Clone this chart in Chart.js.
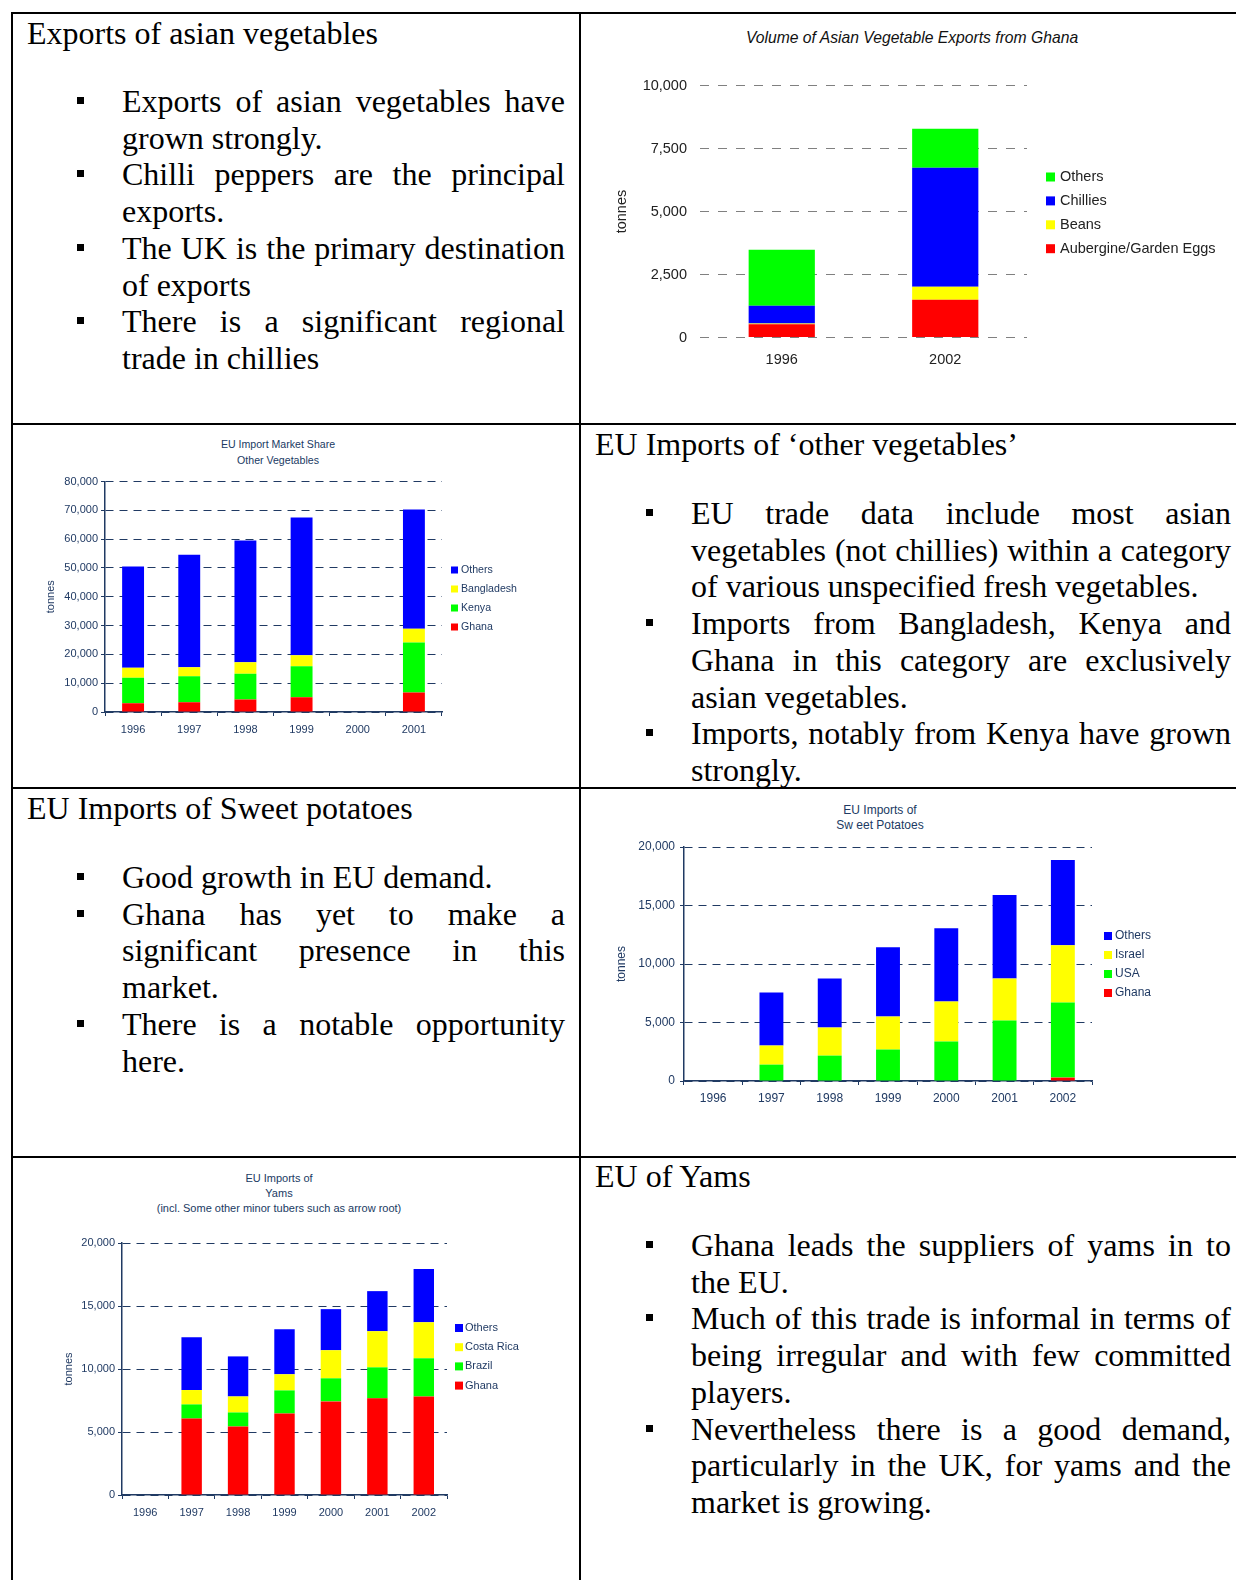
<!DOCTYPE html>
<html>
<head>
<meta charset="utf-8">
<title>Asian vegetables, sweet potatoes and yams</title>
<script src="https://cdn.jsdelivr.net/npm/chart.js@4.4.1/dist/chart.umd.min.js"></script>
<style>
  html, body { margin: 0; padding: 0; background: #fff; }
  body { position: relative; width: 1236px; height: 1580px; overflow: hidden; }
  .rule { position: absolute; background: #000; }
  .head, .list { position: absolute; font-family: "Liberation Serif", "Times New Roman", serif;
    font-size: 32px; line-height: 36.7px; color: #000; white-space: nowrap; }
  .list { list-style: none; margin: 0; padding: 0; }
  .list li { position: relative; }
  .list li::before { content: ""; position: absolute; left: -45px; top: 14px; width: 7px; height: 7px; background: #000; }
  .j { text-align: justify; text-align-last: justify; }
  canvas { position: absolute; }
  .ttl { position: absolute; transform: translate(-50%, -50%); white-space: nowrap;
    font-family: "Liberation Sans", Arial, sans-serif; color: #203a63; }
</style>
</head>
<body>

<!-- table rules -->
<div class="rule" style="left:11px; top:12px; width:1225px; height:2px;"></div>
<div class="rule" style="left:11px; top:12px; width:2px; height:1568px;"></div>
<div class="rule" style="left:579px; top:12px; width:2px; height:1568px;"></div>
<div class="rule" style="left:11px; top:423px; width:1225px; height:2px;"></div>
<div class="rule" style="left:11px; top:787px; width:1225px; height:2px;"></div>
<div class="rule" style="left:11px; top:1156px; width:1225px; height:2px;"></div>

<!-- row 1 text -->
<div class="head" style="left:27px; top:15px;">Exports of asian vegetables</div>
<ul class="list" style="left:122px; top:83px; width:443px;">
  <li><div class="j">Exports of asian vegetables have</div><div>grown strongly.</div></li>
  <li><div class="j">Chilli peppers are the principal</div><div>exports.</div></li>
  <li><div class="j">The UK is the primary destination</div><div>of exports</div></li>
  <li><div class="j">There is a significant regional</div><div>trade in chillies</div></li>
</ul>

<!-- row 2 text -->
<div class="head" style="left:595px; top:426px;">EU Imports of ‘other vegetables’</div>
<ul class="list" style="left:691px; top:495px; width:540px;">
  <li><div class="j">EU trade data include most asian</div><div class="j">vegetables (not chillies) within a category</div><div>of various unspecified fresh vegetables.</div></li>
  <li><div class="j">Imports from Bangladesh, Kenya and</div><div class="j">Ghana in this category are exclusively</div><div>asian vegetables.</div></li>
  <li><div class="j">Imports, notably from Kenya have grown</div><div>strongly.</div></li>
</ul>

<!-- row 3 text -->
<div class="head" style="left:27px; top:790px;">EU Imports of Sweet potatoes</div>
<ul class="list" style="left:122px; top:859px; width:443px;">
  <li><div>Good growth in EU demand.</div></li>
  <li><div class="j">Ghana has yet to make a</div><div class="j">significant presence in this</div><div>market.</div></li>
  <li><div class="j">There is a notable opportunity</div><div>here.</div></li>
</ul>

<!-- row 4 text -->
<div class="head" style="left:595px; top:1158px;">EU of Yams</div>
<ul class="list" style="left:691px; top:1227px; width:540px;">
  <li><div class="j">Ghana leads the suppliers of yams in to</div><div>the EU.</div></li>
  <li><div class="j">Much of this trade is informal in terms of</div><div class="j">being irregular and with few committed</div><div>players.</div></li>
  <li><div class="j">Nevertheless there is a good demand,</div><div class="j">particularly in the UK, for yams and the</div><div>market is growing.</div></li>
</ul>

<!-- chart titles -->
<div class="ttl" style="left:912px; top:38px; font-size:15.7px; font-style:italic; color:#111;">Volume of Asian Vegetable Exports from Ghana</div>
<div class="ttl" style="left:278px; top:444px; font-size:10.6px;">EU Import Market Share</div>
<div class="ttl" style="left:278px; top:459.5px; font-size:10.6px;">Other Vegetables</div>
<div class="ttl" style="left:880px; top:810px; font-size:12px;">EU Imports of</div>
<div class="ttl" style="left:880px; top:825px; font-size:12px;">Sw eet Potatoes</div>
<div class="ttl" style="left:279px; top:1177.5px; font-size:11px;">EU Imports of</div>
<div class="ttl" style="left:279px; top:1192.6px; font-size:11px;">Yams</div>
<div class="ttl" style="left:279px; top:1207.8px; font-size:11px;">(incl. Some other minor tubers such as arrow root)</div>

<canvas id="ghanaExports" width="652" height="400" style="left:582px; top:16px;"></canvas>
<canvas id="otherVeg" width="564" height="360" style="left:14px; top:426px;"></canvas>
<canvas id="sweetPotato" width="652" height="364" style="left:582px; top:790px;"></canvas>
<canvas id="yams" width="564" height="420" style="left:14px; top:1159px;"></canvas>

<script>
// Ghana exports of asian vegetables (tonnes)
const exportYears = ['1996', '2002'];
const exportAubergine = [530, 1500];
const exportBeans = [30, 510];
const exportChillies = [700, 4730];
const exportOthers = [2225, 1550];

// EU imports of 'other vegetables' (tonnes), no figures for 2000
const vegYears = ['1996', '1997', '1998', '1999', '2000', '2001'];
const vegGhana = [3000, 3400, 4300, 5100, null, 6800];
const vegKenya = [8900, 9000, 9000, 10800, null, 17300];
const vegBangladesh = [3500, 3100, 3950, 3800, null, 4800];
const vegOthers = [35100, 39100, 42250, 47800, null, 41400];

// EU imports of sweet potatoes (tonnes)
const potatoYears = ['1996', '1997', '1998', '1999', '2000', '2001', '2002'];
const potatoGhana = [null, 0, 0, 0, 0, 0, 290];
const potatoUSA = [null, 1400, 2170, 2690, 3370, 5170, 6420];
const potatoIsrael = [null, 1630, 2400, 2820, 3430, 3600, 4890];
const potatoOthers = [null, 4540, 4200, 5920, 6260, 7120, 7290];

// EU imports of yams (tonnes)
const yamYears = ['1996', '1997', '1998', '1999', '2000', '2001', '2002'];
const yamGhana = [null, 6070, 5440, 6470, 7430, 7670, 7820];
const yamBrazil = [null, 1120, 1110, 1830, 1830, 2460, 3030];
const yamCostaRica = [null, 1140, 1270, 1280, 2230, 2870, 2860];
const yamOthers = [null, 4190, 3180, 3580, 3260, 3180, 4220];

const RED = '#ff0000', YELLOW = '#ffff00', GREEN = '#00ff00', BLUE = '#0000ff';
const NAVY = '#203a63';

// legend to the right of the plot, top entry = top of the stack
const sideLegend = {
    id: 'sideLegend',
    afterDraw(chart, args, opts) {
        const ctx = chart.ctx;
        const sets = chart.data.datasets.slice().reverse();
        ctx.save();
        ctx.font = opts.font;
        ctx.textBaseline = 'middle';
        sets.forEach((ds, i) => {
            const y = opts.y + i * opts.step;
            ctx.fillStyle = ds.backgroundColor;
            ctx.fillRect(opts.x, y - opts.box / 2, opts.box, opts.box);
            ctx.fillStyle = opts.color;
            ctx.fillText(ds.label, opts.textX, y);
        });
        ctx.restore();
    }
};

function stackedBars(id, labels, series, o) {
    const font = { family: '"Liberation Sans", Arial, sans-serif', size: o.fontSize };
    return new Chart(document.getElementById(id), {
        type: 'bar',
        data: {
            labels: labels,
            datasets: series.map(s => ({
                label: s.label,
                data: s.data,
                backgroundColor: s.color,
                borderWidth: 0,
                barPercentage: o.bar,
                categoryPercentage: 1
            }))
        },
        options: {
            responsive: false,
            animation: false,
            layout: { padding: o.pad },
            plugins: {
                legend: { display: false },
                tooltip: { enabled: false },
                sideLegend: Object.assign({ font: o.legendSize + 'px "Liberation Sans", Arial, sans-serif', color: o.text }, o.legend)
            },
            scales: {
                x: {
                    stacked: true,
                    grid: { display: o.axes, drawOnChartArea: false, drawTicks: o.axes, tickLength: 4, color: o.line, tickColor: o.line },
                    border: { display: o.axes, color: o.line, width: 1.5 },
                    ticks: { color: o.text, font: font, padding: o.xPad, maxRotation: 0 },
                    afterFit: s => { s.height = o.xH; }
                },
                y: {
                    stacked: true,
                    min: 0,
                    max: o.max,
                    grid: { color: o.grid, lineWidth: 1, drawTicks: o.axes, tickLength: 4, tickColor: o.line, tickBorderDash: [] },
                    border: { display: o.axes, color: o.line, width: 1.5, dash: o.dash },
                    ticks: { stepSize: o.step, color: o.text, font: font, padding: o.yPad,
                        callback: v => v.toLocaleString('en-US') },
                    title: { display: true, text: 'tonnes', color: o.text, font: font },
                    afterFit: s => { s.width = o.yW; }
                }
            }
        },
        plugins: [sideLegend]
    });
}

stackedBars('ghanaExports', exportYears, [
    { label: 'Aubergine/Garden Eggs', data: exportAubergine, color: RED },
    { label: 'Beans', data: exportBeans, color: YELLOW },
    { label: 'Chillies', data: exportChillies, color: BLUE },
    { label: 'Others', data: exportOthers, color: GREEN }
], {
    fontSize: 14.5, legendSize: 14.5, text: '#222', line: '#808080', grid: '#808080', axes: false, dash: [9, 9],
    max: 10000, step: 2500, bar: 0.405,
    pad: { left: 27, top: 69.6, right: 207, bottom: 0 }, yW: 91, xH: 78.5, xPad: 14, yPad: 13,
    legend: { x: 464, textX: 478, y: 161, step: 23.9, box: 9 }
});

stackedBars('otherVeg', vegYears, [
    { label: 'Ghana', data: vegGhana, color: RED },
    { label: 'Kenya', data: vegKenya, color: GREEN },
    { label: 'Bangladesh', data: vegBangladesh, color: YELLOW },
    { label: 'Others', data: vegOthers, color: BLUE }
], {
    fontSize: 11, legendSize: 10.6, text: NAVY, line: NAVY, grid: NAVY, axes: true, dash: [8, 6],
    max: 80000, step: 10000, bar: 0.39,
    pad: { left: 26, top: 55.5, right: 136, bottom: 0 }, yW: 65, xH: 74, xPad: 7, yPad: 3,
    legend: { x: 437, textX: 447, y: 144, step: 19, box: 7 }
});

stackedBars('sweetPotato', potatoYears, [
    { label: 'Ghana', data: potatoGhana, color: RED },
    { label: 'USA', data: potatoUSA, color: GREEN },
    { label: 'Israel', data: potatoIsrael, color: YELLOW },
    { label: 'Others', data: potatoOthers, color: BLUE }
], {
    fontSize: 12, legendSize: 12, text: NAVY, line: NAVY, grid: NAVY, axes: true, dash: [8, 6],
    max: 20000, step: 5000, bar: 0.41,
    pad: { left: 28, top: 57, right: 142, bottom: 0 }, yW: 74, xH: 73, xPad: 6, yPad: 5,
    legend: { x: 522, textX: 533, y: 146, step: 19, box: 8 }
});

stackedBars('yams', yamYears, [
    { label: 'Ghana', data: yamGhana, color: RED },
    { label: 'Brazil', data: yamBrazil, color: GREEN },
    { label: 'Costa Rica', data: yamCostaRica, color: YELLOW },
    { label: 'Others', data: yamOthers, color: BLUE }
], {
    fontSize: 11, legendSize: 11, text: NAVY, line: NAVY, grid: NAVY, axes: true, dash: [8, 6],
    max: 20000, step: 5000, bar: 0.44,
    pad: { left: 44, top: 84, right: 131, bottom: 0 }, yW: 64, xH: 84, xPad: 7, yPad: 3,
    legend: { x: 441, textX: 451, y: 169, step: 19.2, box: 8 }
});
</script>
</body>
</html>
